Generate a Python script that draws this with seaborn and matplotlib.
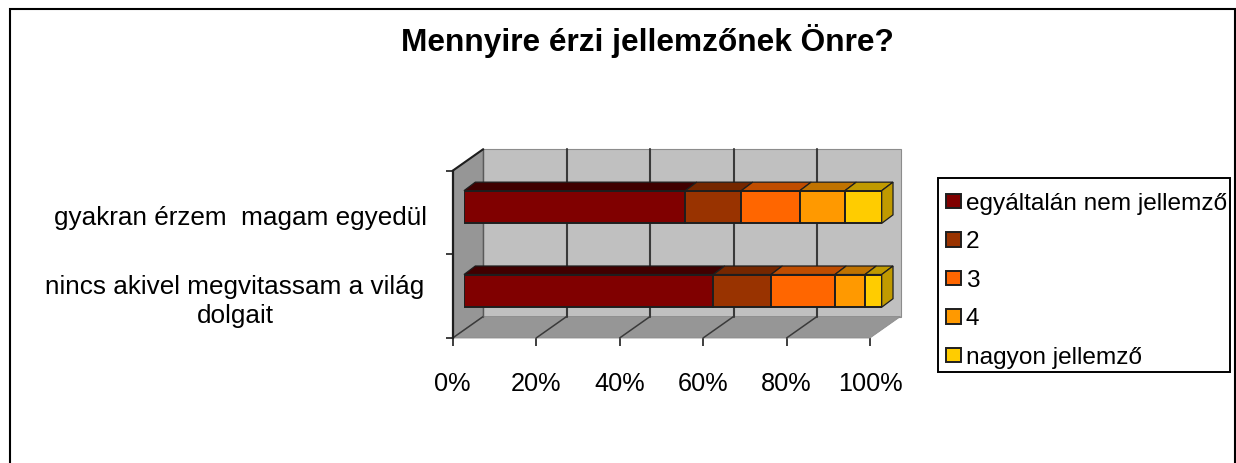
"""Hungarian survey chart: faked 3D stacked percent bars on a seaborn barplot."""
import numpy as np
import matplotlib
matplotlib.use("Agg")
import matplotlib.pyplot as plt
from matplotlib.patches import Polygon, Rectangle
import seaborn as sns

W, H, DPI = 1236, 463, 100

TITLE = "Mennyire érzi jellemzőnek Önre?"
CATEGORIES = ["gyakran érzem  magam egyedül", "nincs akivel megvitassam a világ\ndolgait"]
SERIES = ["egyáltalán nem jellemző", "2", "3", "4", "nagyon jellemző"]
VALUES = [
    [53.0, 59.7],
    [13.4, 13.8],
    [14.0, 15.3],
    [10.8, 7.2],
    [8.8, 4.0],
]
COLORS = ["#800000", "#993300", "#FF6600", "#FF9900", "#FFCC00"]
TOPS = ["#400000", "#752700", "#C04D00", "#C07300", "#C09A00"]
XTICKS = [0, 20, 40, 60, 80, 100]
EDGE = "#1e1e1e"

sns.set_theme(style="white")
plt.rcParams["font.family"] = ["Liberation Sans", "DejaVu Sans"]


def px_axes(fig, x0, y0, x1, y1):
    return fig.add_axes([x0 / W, 1 - y1 / H, (x1 - x0) / W, (y1 - y0) / H])


def px_rect(x0, y0, x1, y1, **kws):
    return Rectangle((x0 / W, 1 - y1 / H), (x1 - x0) / W, (y1 - y0) / H, transform=fig.transFigure, **kws)


fig = plt.figure(figsize=(W / DPI, H / DPI), dpi=DPI, facecolor="white")
fig.add_artist(px_rect(10, 9.5, 1235, H + 10, fill=False, ec="black", lw=1.5))

# the front plane carries the ticks, labels and walls
ax = px_axes(fig, 452.7, 170.7, 870, 338)
ax.set_xlim(0, 100)
ax.set_ylim(1.5, -0.5)
ax.patch.set_visible(False)
for s in ["top", "right", "bottom"]:
    ax.spines[s].set_visible(False)
ax.spines["left"].set_color("#1e1e1e")
ax.spines["left"].set_linewidth(1.6)

unit_x = 100 / (870 - 452.7)
unit_y = 2 / (338 - 170.7)
dx, dy = 30.5 * unit_x, -21.5 * unit_y
y0, y1 = 1.5, -0.5

back = Polygon([(dx, y0 + dy), (100 + dx, y0 + dy), (100 + dx, y1 + dy), (dx, y1 + dy)],
               fc="#C0C0C0", ec="#8c8c8c", lw=0.8, clip_on=False, zorder=1)
left = Polygon([(0, y0), (dx, y0 + dy), (dx, y1 + dy), (0, y1)],
               fc="#969696", ec="#6e6e6e", lw=0.6, clip_on=False, zorder=1)
floor = Polygon([(0, y0), (100, y0), (100 + dx, y0 + dy), (dx, y0 + dy)],
                fc="#969696", ec="#8c8c8c", lw=0.6, clip_on=False, zorder=1)
for p in [back, left, floor]:
    ax.add_patch(p)
for t in XTICKS[1:-1]:
    ax.plot([t + dx, t + dx], [y0 + dy, y1 + dy], color="#3a3a3a", lw=1.5, clip_on=False, zorder=2)
for t in XTICKS[:-1]:
    ax.plot([t, t + dx], [y0, y0 + dy], color="#3a3a3a", lw=1.1, clip_on=False, zorder=2)
ax.plot([dx, dx], [y0 + dy, y1 + dy], color="#5a5a5a", lw=1.0, clip_on=False, zorder=2)
ax.plot([0, dx], [y1, y1 + dy], color="#1e1e1e", lw=1.5, clip_on=False, zorder=2)

ax.set_xticks(XTICKS)
ax.set_xticklabels([f"{t}%" for t in XTICKS], fontsize=18.2, color="black")
ax.set_yticks([-0.5, 0.5, 1.5])
ax.set_yticklabels([])
ax.set_yticks([0.04, 1.0], minor=True)
ax.set_yticklabels(CATEGORIES, minor=True, fontsize=18.8, color="black", ha="center",
                   linespacing=1.3)
ax.tick_params(axis="x", length=5.5, width=1.2, color="#1e1e1e", pad=19.3, bottom=True)
ax.tick_params(axis="y", which="major", length=5, width=1.2, color="#1e1e1e", left=True)
ax.tick_params(axis="y", which="minor", length=0)
for lab, px in zip(ax.get_yticklabels(minor=True), [241, 235]):
    lab.set_x((px - 452.7) / (870 - 452.7))
    lab.set_transform(ax.get_yaxis_transform())

# the bars sit on their own axes, shifted into the depth of the box
bars = px_axes(fig, 464, 165.1, 881.7, 332.8)
bars.patch.set_visible(False)
left_edge = np.zeros(len(CATEGORIES))
bar_h = 0.39
bdx, bdy = 11.3 * unit_x, -8.5 * unit_y
for name, vals, col, top in zip(SERIES, VALUES, COLORS, TOPS):
    sns.barplot(x=vals, y=CATEGORIES, left=left_edge, orient="y", color=col, saturation=1,
                width=bar_h, edgecolor=EDGE, linewidth=1.4, label=name, ax=bars, legend=False)
    for i, v in enumerate(vals):
        ya = i - bar_h / 2
        xa = left_edge[i]
        bars.add_patch(Polygon([(xa, ya), (xa + v, ya), (xa + v + bdx, ya + bdy), (xa + bdx, ya + bdy)],
                               fc=top, ec=EDGE, lw=0.9, clip_on=False, zorder=3))
    left_edge = left_edge + np.array(vals)
for i, total in enumerate(left_edge):
    ya, yb = i - bar_h / 2, i + bar_h / 2
    bars.add_patch(Polygon([(total, ya), (total + bdx, ya + bdy), (total + bdx, yb + bdy), (total, yb)],
                           fc=TOPS[-1], ec=EDGE, lw=0.9, clip_on=False, zorder=3))
bars.set_xlim(0, 100)
bars.set_ylim(1.5, -0.5)
bars.axis("off")

# frame drawn apart: the longest label runs right up to the box edge
fig.add_artist(px_rect(937.5, 178, 1230, 371.7, fill=False, ec="black", lw=1.4))
handles, labels = bars.get_legend_handles_labels()
fig.legend(handles, labels, loc="upper left", bbox_to_anchor=(945.5 / W, 1 - 192.7 / H),
           fontsize=17.6, frameon=False, handlelength=0.63, handleheight=0.55, handletextpad=0.2,
           labelspacing=0.675, borderpad=0, borderaxespad=0, labelcolor="black")

fig.text(647 / W, 1 - 41 / H, TITLE, ha="center", va="center", fontsize=22.8, weight="bold", color="black")
fig.savefig("out.png", dpi=DPI)
